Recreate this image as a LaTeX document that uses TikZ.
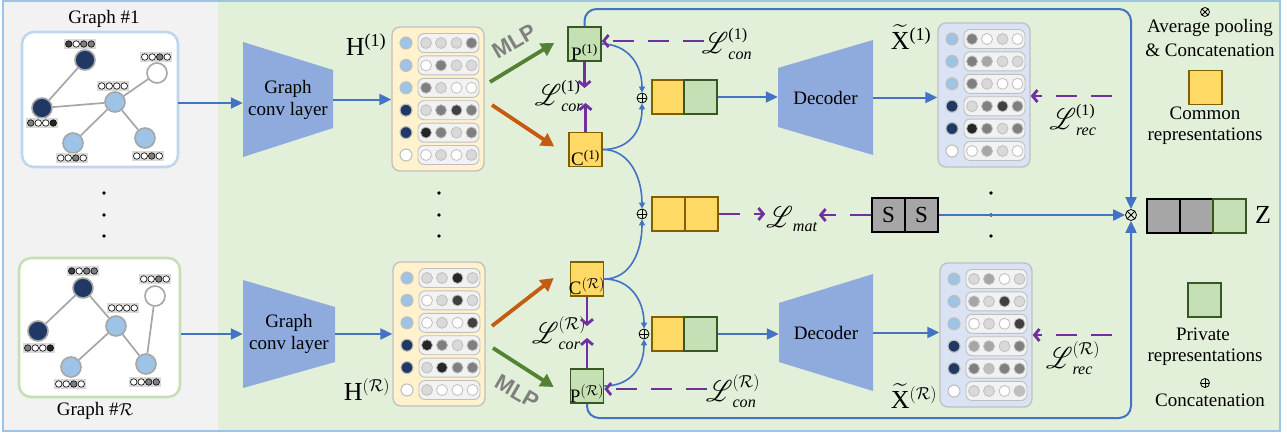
\documentclass[tikz,border=0pt]{standalone}
\usepackage{amsmath}
\usepackage{graphicx}
\usepackage{mathrsfs}
\usepackage{fontspec}
\setmainfont{Liberation Serif}
\newfontfamily\mlpfont{Liberation Sans}
\usetikzlibrary{arrows.meta,calc}

\definecolor{bggrey}{HTML}{F2F2F2}
\definecolor{bggreen}{HTML}{E2F0D9}
\definecolor{framec}{HTML}{9DC3E6}
\definecolor{cblue}{HTML}{4472C4}
\definecolor{convc}{HTML}{8FAADC}
\definecolor{corng}{HTML}{C55A11}
\definecolor{cgreen}{HTML}{548235}
\definecolor{cpurp}{HTML}{7030A0}
\definecolor{hfill}{HTML}{FFF2CC}
\definecolor{xfill}{HTML}{DAE3F3}
\definecolor{lb}{HTML}{9DC3E6}
\definecolor{db}{HTML}{203864}
\definecolor{wh}{HTML}{FFFFFF}
\definecolor{gL}{HTML}{D9D9D9}
\definecolor{gB}{HTML}{BFBFBF}
\definecolor{gA}{HTML}{A6A6A6}
\definecolor{gM}{HTML}{7F7F7F}
\definecolor{gD}{HTML}{404040}
\definecolor{gK}{HTML}{262626}
\definecolor{pfill}{HTML}{C5E0B4}
\definecolor{pdraw}{HTML}{385723}
\definecolor{cfill}{HTML}{FFD966}
\definecolor{cdraw}{HTML}{7F6000}
\definecolor{gonebd}{HTML}{BDD7EE}
\definecolor{grbd}{HTML}{C5E0B4}
\definecolor{rowfill}{HTML}{F2F2F2}

\newcommand{\bigL}{{\scalebox{1}[1.2]{$\mathscr{L}$}}}

\tikzset{
  txt/.style={inner sep=0pt, font=\fontsize{19}{22}\selectfont, align=center},
  bigtxt/.style={inner sep=0pt, font=\fontsize{26}{26}\selectfont},
  losstxt/.style={inner sep=1pt, font=\fontsize{23}{23}\selectfont},
  gframe/.style={draw, line width=2.6pt, fill=white, rounded corners=12pt, inner sep=0pt},
  gnode/.style={circle, draw=gA, line width=1.6pt, minimum size=20pt, inner sep=0pt},
  gedge/.style={draw=gA, line width=1.7pt},
  minic/.style={circle, draw=black, line width=0.6pt, minimum size=6.5pt, inner sep=0pt},
  matbox/.style={draw=gB, line width=1.3pt, rounded corners=8pt, minimum width=92pt, minimum height=144pt, inner sep=0pt},
  rowbox/.style={draw=gB, fill=rowfill, line width=0.9pt, rounded corners=6pt, minimum width=61pt, minimum height=19pt, inner sep=0pt},
  matdot/.style={circle, draw=gB, line width=1.1pt, minimum size=12pt, inner sep=0pt},
  minidot/.style={circle, draw=gB, line width=0.8pt, minimum size=11pt, inner sep=0pt},
  pbox/.style={draw=pdraw, fill=pfill, line width=1.6pt, minimum width=33pt, minimum height=34pt, inner sep=0pt},
  cbox/.style={draw=cdraw, fill=cfill, line width=1.6pt, minimum width=33pt, minimum height=34pt, inner sep=0pt},
  sbox/.style={draw=black, fill=gA, line width=2pt, minimum width=33pt, minimum height=34pt, inner sep=0pt, font=\fontsize{23}{23}\selectfont},
  zgbox/.style={draw=black, fill=gA, line width=2pt, minimum width=33pt, minimum height=34pt, inner sep=0pt},
  barr/.style={draw=cblue, line width=2pt, -{Triangle[length=12pt,width=11pt]}},
  bcurve/.style={draw=cblue, line width=1.6pt, -{Triangle[length=6pt,width=6pt]}},
  oarr/.style={draw=corng, line width=3.8pt, -{Triangle[length=13pt,width=14pt]}},
  garr/.style={draw=cgreen, line width=3.8pt, -{Triangle[length=13pt,width=14pt]}},
  parr/.style={draw=cpurp, line width=2.8pt, -{Straight Barb[length=5pt,width=12pt]}},
  pdash/.style={parr, dash pattern=on 21pt off 14pt},
  oplusn/.style={circle, draw, line width=0.8pt, minimum size=10pt, inner sep=0pt,
    path picture={\draw[line width=0.8pt] (path picture bounding box.north) -- (path picture bounding box.south) (path picture bounding box.west) -- (path picture bounding box.east);}},
  otimesn/.style={circle, draw, line width=0.8pt, minimum size=10pt, inner sep=0pt,
    path picture={\draw[line width=0.8pt] (path picture bounding box.north west) -- (path picture bounding box.south east) (path picture bounding box.north east) -- (path picture bounding box.south west);}},
  mlp/.style={text=gM, font=\mlpfont\bfseries\fontsize{22}{22}\selectfont, inner sep=0pt},
}

% feature matrix: name, x0, y0, fill, rows
\newcommand{\featmat}[5]{%
  \node[matbox, fill=#4] (#1) at ({#2+46},{#3+72}) {};
  \foreach \nc/\ca/\cb/\cc/\cd [count=\i from 0] in {#5} {%
    \pgfmathsetmacro{\yy}{#3+16+22.4*\i}%
    \node[rowbox] (#1-row\i) at ({#2+56.5},\yy) {};
    \node[matdot, fill=\nc] (#1-n\i) at ({#2+14},\yy) {};
    \node[minidot, fill=\ca] (#1-a\i) at ({#2+34},\yy) {};
    \node[minidot, fill=\cb] (#1-b\i) at ({#2+49},\yy) {};
    \node[minidot, fill=\cc] (#1-c\i) at ({#2+64.5},\yy) {};
    \node[minidot, fill=\cd] (#1-d\i) at ({#2+79.5},\yy) {};
  }%
}
% mini label: name, x, y, c1..c4
\newcommand{\minilab}[7]{%
  \node[fill=gL, minimum width=32pt, minimum height=10pt, inner sep=0pt] (#1) at (#2,#3) {};
  \node[minic, fill=#4] (#1-1) at ({#2-11.25},#3) {};
  \node[minic, fill=#5] (#1-2) at ({#2-3.75},#3) {};
  \node[minic, fill=#6] (#1-3) at ({#2+3.75},#3) {};
  \node[minic, fill=#7] (#1-4) at ({#2+11.25},#3) {};
}

\begin{document}
\begin{tikzpicture}[x=1pt,y=-1pt]
\useasboundingbox (0,0) rectangle (1287,434);
\fill[white] (0,0) rectangle (1287,434);
\fill[bggrey] (3,1) rectangle (218,431);
\fill[bggreen] (218,1) rectangle (1280,431);
\draw[framec, line width=1.3pt] (3,1) rectangle (1280,431);

% ---------- graphs ----------
\node[txt] (G1lab) at (104,19) {Graph \#1};
\node[gframe, draw=gonebd, minimum width=156pt, minimum height=135pt] (G1) at (100,99.5) {};
\node[gnode, fill=db] (g1a) at (85,60) {};
\node[gnode, fill=db] (g1b) at (42,108) {};
\node[gnode, fill=lb] (g1c) at (115,102) {};
\node[gnode, fill=white] (g1d) at (157,73) {};
\node[gnode, fill=lb] (g1e) at (73,143) {};
\node[gnode, fill=lb] (g1f) at (145,138) {};
\draw[gedge] (g1a) -- (g1b);
\draw[gedge] (g1b) -- (g1c);
\draw[gedge] (g1c) -- (g1d);
\draw[gedge] (g1c) -- (g1e);
\draw[gedge] (g1c) -- (g1f);
\minilab{m1a}{80}{44}{gD}{wh}{gM}{gM}
\minilab{m1b}{42}{123}{gM}{wh}{wh}{gK}
\minilab{m1c}{113}{86}{wh}{wh}{wh}{wh}
\minilab{m1d}{156}{57}{wh}{wh}{gM}{wh}
\minilab{m1e}{72}{158}{wh}{wh}{gM}{wh}
\minilab{m1f}{148}{156}{wh}{wh}{gM}{wh}

\node[gframe, draw=grbd, minimum width=161pt, minimum height=139pt] (GR) at (99.5,327.5) {};
\node[txt] (GRlab) at (95,411) {Graph \#$\mathcal{R}$};
\node[gnode, fill=db] (gra) at (83,288) {};
\node[gnode, fill=db] (grb) at (38,331) {};
\node[gnode, fill=lb] (grc) at (116,326) {};
\node[gnode, fill=white] (grd) at (155,296) {};
\node[gnode, fill=lb] (gre) at (71,367) {};
\node[gnode, fill=lb] (grf) at (146,364) {};
\draw[gedge] (gra) -- (grb);
\draw[gedge] (gra) -- (grc);
\draw[gedge] (grc) -- (gre);
\draw[gedge] (grc) -- (grf);
\draw[gedge] (grd) -- (grf);
\minilab{mra}{83}{271}{gD}{wh}{gM}{gM}
\minilab{mrb}{39}{348}{gM}{wh}{wh}{gK}
\minilab{mrc}{123}{308}{wh}{wh}{wh}{wh}
\minilab{mrd}{155}{279}{wh}{wh}{gM}{wh}
\minilab{mre}{70}{384}{wh}{wh}{gM}{wh}
\minilab{mrf}{145}{382}{wh}{wh}{gM}{gM}

% vertical dots
\foreach \dx in {104,439,991} \foreach \dy in {193,215,236} \fill (\dx,\dy) circle (1.9pt);

% ---------- conv layers ----------
\fill[convc] (243,42) -- (333,70) -- (333,128) -- (243,157) -- cycle;
\node[txt, minimum width=90pt] (conv1) at (288,99.5) {Graph\\conv layer};
\fill[convc] (243,280) -- (335,307) -- (335,362) -- (243,388) -- cycle;
\node[txt, minimum width=92pt] (convR) at (289,334) {Graph\\conv layer};

\coordinate (g1out) at (178,103);
\draw[barr] (g1out) -- (g1out -| conv1.west);
\draw[barr] (convR.west -| GR.east) -- (convR.west);

% ---------- H matrices ----------
\featmat{H1}{392}{27}{hfill}{lb/gL/gL/gL/gM, lb/wh/gM/gL/gL, lb/gM/gL/wh/wh, db/gL/gM/gD/gM, db/gK/gM/gL/gM, wh/wh/gL/wh/gL}
\featmat{HR}{393}{262}{hfill}{lb/gL/gL/gK/gL, lb/wh/gL/gD/gL, lb/wh/gL/wh/gD, db/gK/gM/gL/gM, db/gL/gK/gM/gM, wh/gL/wh/wh/wh}
\node[bigtxt] (H1lab) at (366,45) {H\textsuperscript{(1)}};
\node[bigtxt] (HRlab) at (367,390) {H\textsuperscript{$(\mathcal{R})$}};
\draw[barr] (conv1.east) -- (conv1.east -| H1.west);
\draw[barr] (convR.east) -- (convR.east -| HR.west);

% ---------- P / C ----------
\node[pbox] (P1) at (584.5,44) {};
\node[anchor=south, inner sep=1.5pt, font=\fontsize{19}{19}\selectfont] (P1t) at (P1.south) {P\textsuperscript{(1)}};
\node[cbox] (C1) at (585.5,149.5) {};
\node[anchor=south, inner sep=1.5pt, font=\fontsize{19}{19}\selectfont] (C1t) at (C1.south) {C\textsuperscript{(1)}};
\node[cbox] (CR) at (587,279) {};
\node[anchor=south, inner sep=1.5pt, font=\fontsize{19}{19}\selectfont] (CRt) at (CR.south) {C\textsuperscript{$(\mathcal{R})$}};
\node[pbox] (PR) at (587,386) {};
\node[anchor=south, inner sep=1.5pt, font=\fontsize{19}{19}\selectfont] (PRt) at (PR.south) {P\textsuperscript{$(\mathcal{R})$}};

% MLP arrows
\coordinate (a1s) at (490,82);
\coordinate (a2s) at (492,105);
\coordinate (a3s) at (492,326);
\coordinate (a4s) at (493,348);
\draw[garr] (a1s) -- ($(P1.west)+(-13,-1)$);
\draw[oarr] (a2s) -- ($(C1.west)+(-14,-3)$);
\draw[oarr] (a3s) -- ($(CR.west)+(-16,-1)$);
\draw[garr] (a4s) -- ($(PR.west)+(-16,1)$);
\node[mlp, rotate=30] (mlp1) at (514,41) {MLP};
\node[mlp, rotate=-30] (mlpR) at (517,392) {MLP};

% ---------- concat ----------
\node[oplusn] (op1) at (642,98) {};
\node[oplusn] (opm) at (642,214) {};
\node[oplusn] (opR) at (644,334) {};
\node[cbox, minimum width=32.5pt] (cat1y) at (668,97) {};
\node[pbox, minimum width=32.5pt] (cat1g) at (700.5,97) {};
\node[cbox, minimum width=33pt] (m1) at (668.5,214) {};
\node[cbox, minimum width=33pt] (m2) at (701.5,214) {};
\node[cbox, minimum width=32.5pt] (catRy) at (668,334) {};
\node[pbox, minimum width=32.5pt] (catRg) at (700.5,334) {};

\draw[bcurve] (P1.east) .. controls +(26,0) and +(0,-28) .. (op1.north);
\draw[bcurve] (C1.east) .. controls +(26,0) and +(0,28) .. (op1.south);
\draw[bcurve] (C1.east) .. controls +(26,0) and +(0,-32) .. (opm.north);
\draw[bcurve] (CR.east) .. controls +(26,0) and +(0,32) .. (opm.south);
\draw[bcurve] (CR.east) .. controls +(26,0) and +(0,-28) .. (opR.north);
\draw[bcurve] (PR.east) .. controls +(26,0) and +(0,28) .. (opR.south);

% ---------- losses ----------
\node[losstxt] (Lcor1) at (559,96) {$\bigL^{\text{(1)}}_{\text{\itshape cor}}$};
\node[losstxt] (Lcon1) at (727,44) {$\bigL^{\text{(1)}}_{\text{\itshape con}}$};
\node[losstxt] (LcorR) at (559,333) {$\bigL^{(\mathcal{R})}_{\text{\itshape cor}}$};
\node[losstxt] (LconR) at (733,391) {$\bigL^{(\mathcal{R})}_{\text{\itshape con}}$};
\node[losstxt] (Lmat) at (792,219) {$\bigL_{\text{\itshape mat}}$};
\node[losstxt] (Lrec1) at (1073,120) {$\bigL^{\text{(1)}}_{\text{\itshape rec}}$};
\node[losstxt] (LrecR) at (1073,358) {$\bigL^{(\mathcal{R})}_{\text{\itshape rec}}$};

\coordinate (cor1a) at (584.5,88);
\coordinate (cor1b) at (585.5,103);
\coordinate (corRa) at (587,326);
\coordinate (corRb) at (587,338);
\draw[parr] (P1.south) -- (cor1a);
\draw[parr] (C1.north) -- (cor1b);
\draw[parr] (CR.south) -- (corRa);
\draw[parr] (PR.north) -- (corRb);

\coordinate (con1s) at (704,41);
\coordinate (conRs) at (707,389);
\draw[pdash] (con1s) -- (con1s -| P1.east);
\draw[pdash] (conRs) -- (conRs -| PR.east);

\draw[pdash] (m2.east) -- (m2.east -| Lmat.west);

% ---------- S, decoder, X ----------
\node[sbox] (s1) at (888.5,215) {S};
\node[sbox] (s2) at (921.5,215) {S};
\draw[pdash] (s1.west) -- (s1.west -| Lmat.east);

\fill[convc] (778,68) -- (873,40) -- (873,155) -- (778,127) -- cycle;
\node[txt, minimum width=95pt] (dec1) at (825.5,97.5) {Decoder};
\fill[convc] (779,303) -- (873,274) -- (873,391) -- (779,362) -- cycle;
\node[txt, minimum width=94pt] (decR) at (826,332.5) {Decoder};
\draw[barr] (cat1g.east) -- (cat1g.east -| dec1.west);
\draw[barr] (catRg.east) -- (catRg.east -| decR.west);

\featmat{X1}{938}{23}{xfill}{lb/gM/wh/gL/wh, lb/gM/gA/gL/gL, lb/gM/gL/wh/wh, db/gL/gM/gD/gM, db/gK/gM/gL/gM, wh/wh/gA/gL/wh}
\featmat{XR}{940}{263}{xfill}{lb/gL/gA/wh/gL, lb/gA/gL/gD/gL, lb/wh/gL/wh/gD, db/gA/gA/gL/gM, db/gM/gB/gM/gM, wh/gL/gL/wh/gB}
\node[bigtxt] (X1lab) at (911,37) {$\widetilde{\text{X}}$\textsuperscript{(1)}};
\node[bigtxt] (XRlab) at (914,396) {$\widetilde{\text{X}}$\textsuperscript{$(\mathcal{R})$}};
\draw[barr] (dec1.east) -- (dec1.east -| X1.west);
\draw[barr] (decR.east) -- (decR.east -| XR.west);

\coordinate (rec1s) at (1112,96);
\coordinate (recRs) at (1112,335);
\draw[pdash] (rec1s) -- (rec1s -| X1.east);
\draw[pdash] (recRs) -- (recRs -| XR.east);

% ---------- output ----------
\node[otimesn, minimum size=11pt] (ox) at (1131,215) {};
\coordinate (tl) at (587,9);
\coordinate (tr) at (1131,9);
\coordinate (bl) at (587,418);
\coordinate (br) at (1131,418);
\draw[barr, rounded corners=12pt] (P1.north) -- (P1.north |- tl) -- (tr) -- (ox.north);
\draw[barr, rounded corners=12pt] (PR.south) -- (PR.south |- bl) -- (br) -- (ox.south);
\draw[barr] (s2.east |- ox.west) -- (ox.west);

\node[zgbox] (z1) at (1163.5,216) {};
\node[zgbox] (z2) at (1196.5,216) {};
\node[pbox] (z3) at (1229.5,216) {};
\node[bigtxt] (zlab) at (1263,215) {Z};

% ---------- legend ----------
\node[otimesn, minimum size=9pt] (lgox) at (1205,12) {};
\node[txt] (lg1) at (1210,28) {Average pooling};
\node[txt] (lg2) at (1210,50) {\& Concatenation};
\node[cbox] (lgy) at (1205.5,87.5) {};
\node[txt] (lg3) at (1205,113) {Common};
\node[txt] (lg4) at (1205,136) {representations};
\node[pbox] (lgg) at (1204.5,300) {};
\node[txt] (lg5) at (1203,334) {Private};
\node[txt] (lg6) at (1205,357) {representations};
\node[oplusn, minimum size=9pt] (lgop) at (1205,383) {};
\node[txt] (lg7) at (1210,400) {Concatenation};
\end{tikzpicture}
\end{document}
